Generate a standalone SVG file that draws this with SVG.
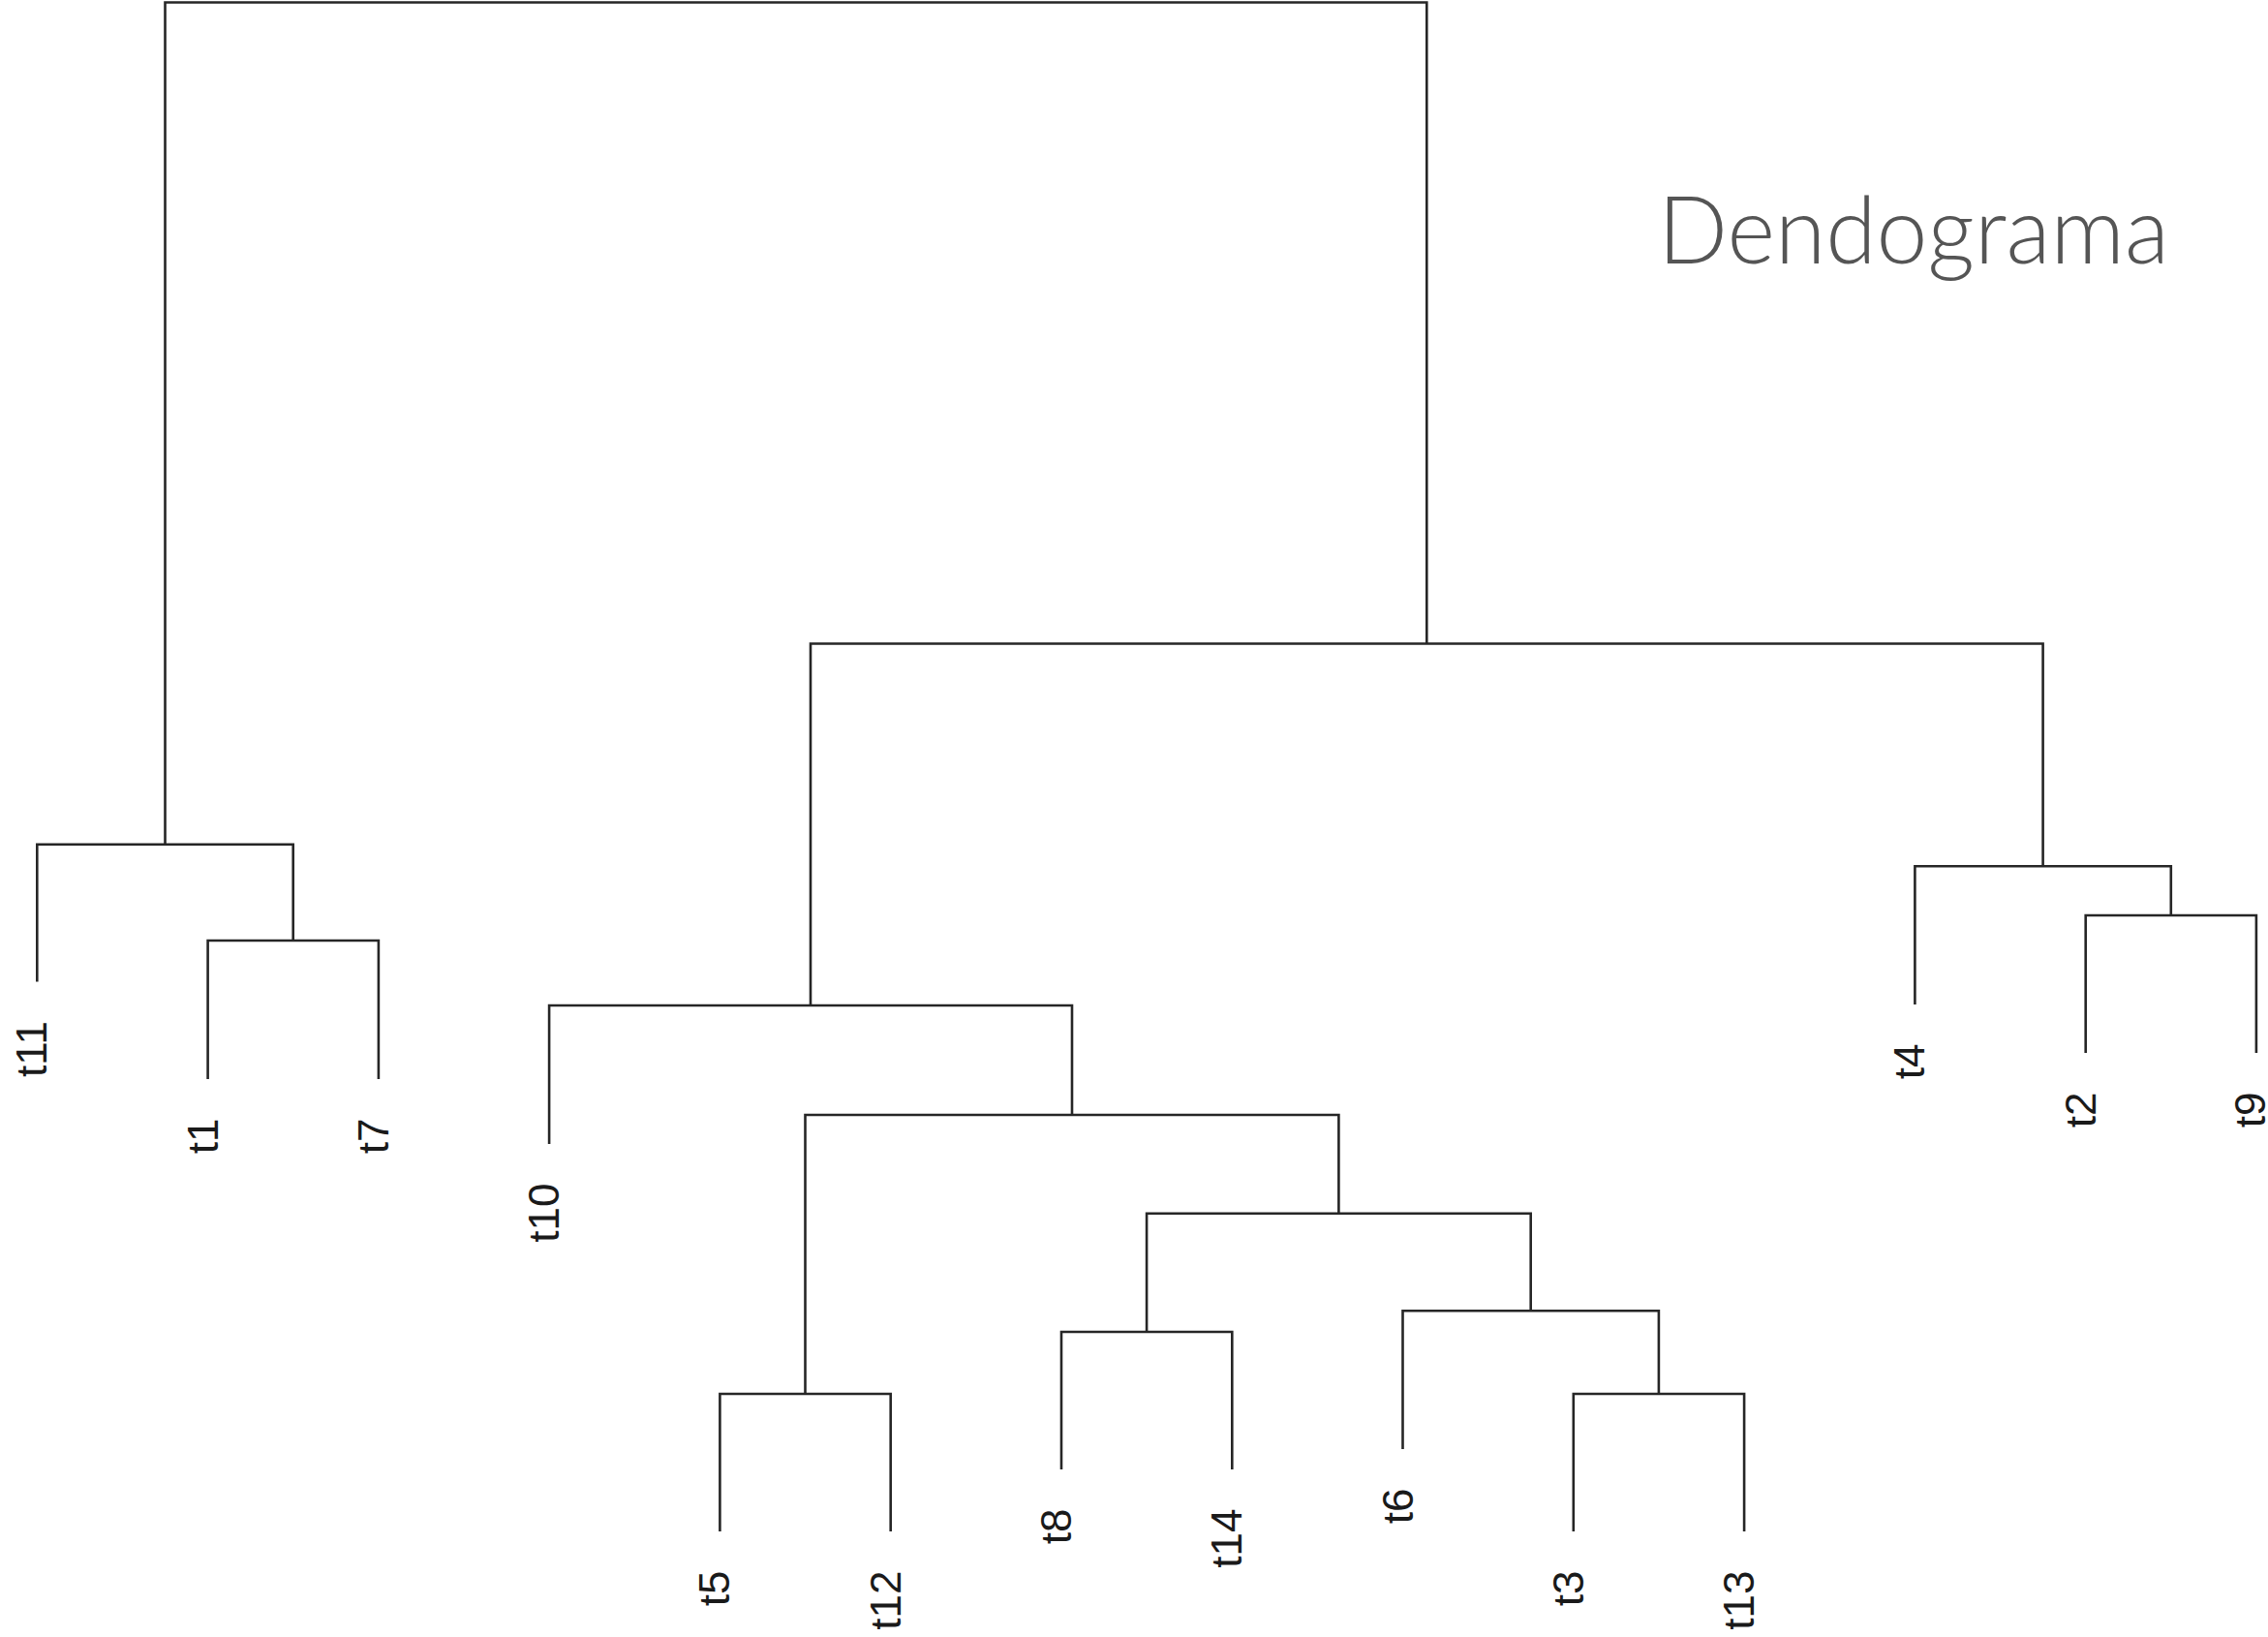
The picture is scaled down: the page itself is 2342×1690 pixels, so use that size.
<svg xmlns="http://www.w3.org/2000/svg" width="2342" height="1690" viewBox="0 0 2342 1690">
<style>
.ln{fill:none;stroke:#262626;stroke-width:2.6;stroke-linejoin:miter;stroke-linecap:butt}
.lb{font-family:"Liberation Sans",Arial,sans-serif;font-size:44px;fill:#1a1a1a;text-anchor:end}
.ttl{font-family:Lato,"Open Sans",sans-serif;font-weight:300;font-size:96px;fill:#555555}
</style>
<rect width="2342" height="1690" fill="#ffffff"/>
<g id="connectors">
<path class="ln" d="M214.6,1114 V971 H390.9 V1114"/>
<path class="ln" d="M38.3,1013.5 V871.7 H302.7 V971"/>
<path class="ln" d="M743.4,1581 V1439 H919.7 V1581"/>
<path class="ln" d="M1096,1517 V1375 H1272.3 V1517"/>
<path class="ln" d="M1624.8,1581 V1439 H1801.1 V1581"/>
<path class="ln" d="M1448.5,1496 V1353.3 H1712.9 V1439"/>
<path class="ln" d="M1184.1,1375 V1252.7 H1580.7 V1353.3"/>
<path class="ln" d="M831.5,1439 V1151 H1382.4 V1252.7"/>
<path class="ln" d="M567.1,1181 V1038 H1107 V1151"/>
<path class="ln" d="M2153.7,1087 V945 H2329.9 V1087"/>
<path class="ln" d="M1977.4,1037 V894.3 H2241.8 V945"/>
<path class="ln" d="M837,1038 V664.5 H2109.6 V894.3"/>
<path class="ln" d="M170.5,871.7 V2.5 H1473.3 V664.5"/>
</g>
<g id="leaf-t11"><text class="lb" transform="translate(48.3,1054) rotate(-90)">t11</text></g>
<g id="leaf-t1"><text class="lb" transform="translate(224.6,1154.5) rotate(-90)">t1</text></g>
<g id="leaf-t7"><text class="lb" transform="translate(400.9,1154.5) rotate(-90)">t7</text></g>
<g id="leaf-t10"><text class="lb" transform="translate(577.1,1221.5) rotate(-90)">t10</text></g>
<g id="leaf-t5"><text class="lb" transform="translate(753.4,1621.5) rotate(-90)">t5</text></g>
<g id="leaf-t12"><text class="lb" transform="translate(929.7,1621.5) rotate(-90)">t12</text></g>
<g id="leaf-t8"><text class="lb" transform="translate(1106,1557.5) rotate(-90)">t8</text></g>
<g id="leaf-t14"><text class="lb" transform="translate(1282.3,1557.5) rotate(-90)">t14</text></g>
<g id="leaf-t6"><text class="lb" transform="translate(1458.5,1536.5) rotate(-90)">t6</text></g>
<g id="leaf-t3"><text class="lb" transform="translate(1634.8,1621.5) rotate(-90)">t3</text></g>
<g id="leaf-t13"><text class="lb" transform="translate(1811.1,1621.5) rotate(-90)">t13</text></g>
<g id="leaf-t4"><text class="lb" transform="translate(1987.4,1077.5) rotate(-90)">t4</text></g>
<g id="leaf-t2"><text class="lb" transform="translate(2163.7,1127.5) rotate(-90)">t2</text></g>
<g id="leaf-t9"><text class="lb" transform="translate(2338.6,1127.5) rotate(-90)">t9</text></g>
<g id="title"><text class="ttl" x="1712" y="272" textLength="528" lengthAdjust="spacingAndGlyphs">Dendograma</text></g>
</svg>
